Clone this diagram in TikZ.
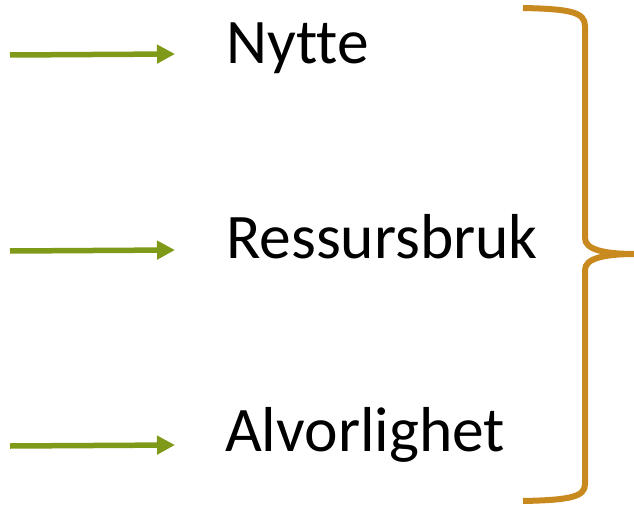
\documentclass[tikz,border=0pt]{standalone}
\usepackage{fontspec}
\setmainfont[Ligatures=NoCommon]{Carlito}
\usepackage{tikz}
\usetikzlibrary{arrows.meta, positioning}
\definecolor{arrowgreen}{HTML}{7E9A18}
\definecolor{bracegold}{HTML}{C8891E}

\begin{document}
\begin{tikzpicture}[x=1pt, y=-1pt,
    factor/.style={anchor=base west, inner sep=0pt, font=\fontsize{63.5}{70}\selectfont},
    feed/.style={-{Triangle[length=18pt, width=18pt]}, line width=5.5pt, arrowgreen}]
    \useasboundingbox (0,0) rectangle (634,508);
    % Factors
    \node[factor] (nytte) at (226, 64) {Nytte};
    \node[factor] (ressurs) at (226, 258) {Ressursbruk};
    \node[factor] (alvor) at (225, 451) {Alvorlighet};
    % Incoming arrows
    \coordinate (s1) at (10, 55);
    \coordinate (e1) at (175, 54);
    \coordinate (s2) at (10, 251);
    \coordinate (e2) at (175, 250);
    \coordinate (s3) at (10, 446);
    \coordinate (e3) at (175, 445);
    \draw[feed] (s1) -- (e1);
    \draw[feed] (s2) -- (e2);
    \draw[feed] (s3) -- (e3);
    % Brace
    \coordinate (btop) at (523, 8);
    \coordinate (btip) at (636, 254);
    \coordinate (bbot) at (523, 501);
    \draw[bracegold, line width=6pt, line cap=butt]
        (btop) .. controls (570, 9) and (585, 12) .. (585, 26)
        -- (585, 238) .. controls (585, 250) and (605, 254) .. (btip)
        .. controls (605, 254) and (585, 258) .. (585, 270)
        -- (585, 484) .. controls (585, 497) and (570, 500) .. (bbot);
\end{tikzpicture}
\end{document}
